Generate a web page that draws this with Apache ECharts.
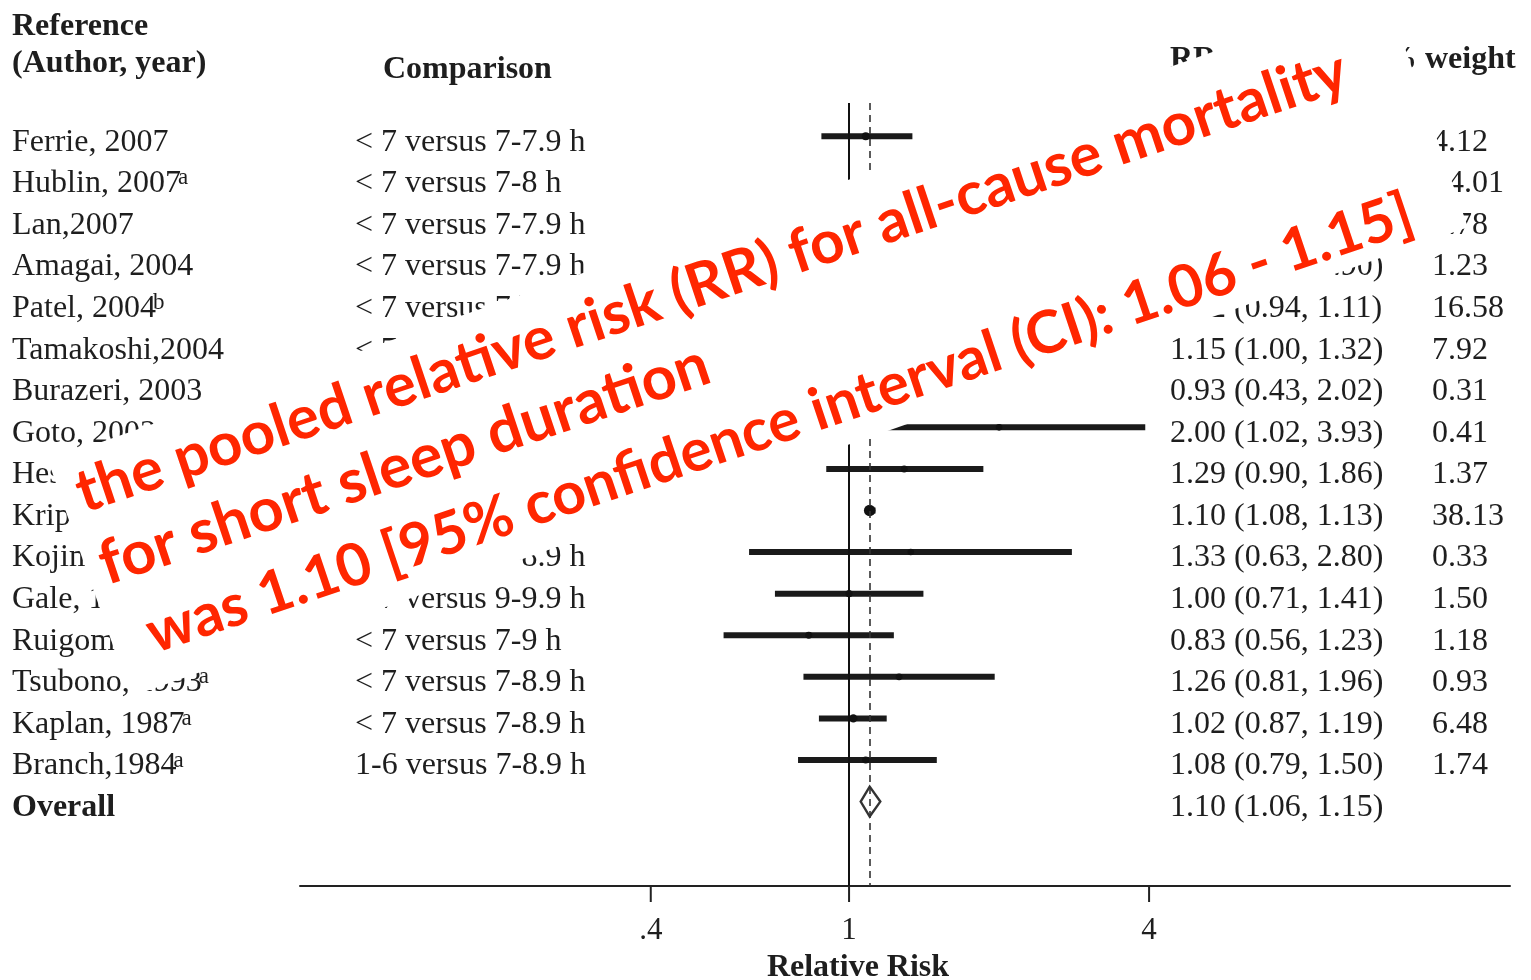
<!DOCTYPE html>
<html>
<head>
<meta charset="utf-8">
<script src="https://cdn.jsdelivr.net/npm/echarts@6/dist/echarts.min.js"></script>
<style>
html,body{margin:0;padding:0;background:#fff;}
#c{width:1531px;height:980px;}
</style>
</head>
<body>
<div id="c"></div>
<script>
// ---------------- data ----------------
const authors = ["Ferrie, 2007","Hublin, 2007","Lan,2007","Amagai, 2004","Patel, 2004","Tamakoshi,2004","Burazeri, 2003","Goto, 2003","Heslop, 2002","Kripke, 2002","Kojima, 2000","Gale, 1998","Ruigomez, 1995","Tsubono, 1993","Kaplan, 1987","Branch,1984","Overall"];
const authorSup = ["","a","","","b","","","","","","","","","a","a","a",""];
const comparisons = ["< 7 versus 7-7.9 h","< 7 versus 7-8 h","< 7 versus 7-7.9 h","< 7 versus 7-7.9 h","< 7 versus 7 h","< 7 versus 7-7.9 h","< 7 versus 7-8 h","< 7 versus 7-7.9 h","< 7 versus 7-8 h","< 7 versus 7 h","< 7 versus 7-8.9 h","< 7 versus 9-9.9 h","< 7 versus 7-9 h","< 7 versus 7-8.9 h","< 7 versus 7-8.9 h","1-6 versus 7-8.9 h",""];
const rrValues = [1.08,1.21,1.06,1.29,1.02,1.15,0.93,2.00,1.29,1.10,1.33,1.00,0.83,1.26,1.02,1.08,1.10];
const ciLow    = [0.88,1.10,0.86,0.88,0.94,1.00,0.43,1.02,0.90,1.08,0.63,0.71,0.56,0.81,0.87,0.79,1.06];
const ciHigh   = [1.34,1.33,1.31,1.90,1.11,1.32,2.02,3.93,1.86,1.13,2.80,1.41,1.23,1.96,1.19,1.50,1.15];
const weights  = ["4.12","14.01","3.78","1.23","16.58","7.92","0.31","0.41","1.37","38.13","0.33","1.50","1.18","0.93","6.48","1.74",""];
const tickValues = [0.4, 1, 4];
const tickLabels = [".4", "1", "4"];
const headerTexts = ["Reference", "(Author, year)", "Comparison", "RR (95% CI)", "% weight"];
const axisTitle = "Relative Risk";
const overlayLines = [
  "the pooled relative risk (RR) for all-cause mortality",
  "for short sleep duration",
  "was 1.10 [95% confidence interval (CI): 1.06 - 1.15]"
];

// ---------------- styles / layout ----------------
const SERIF = "'Liberation Serif','Times New Roman',serif";
const TXT = '#1e1e1e';
const overallIndex = authors.length - 1;
const colX = [12, 355, 1170, 1432];

const studyRows = [];
for (let i = 0; i < overallIndex; i++) {
  studyRows.push([i, rrValues[i], ciLow[i], ciHigh[i], parseFloat(weights[i])]);
}
const overallRow = [[overallIndex, rrValues[overallIndex], ciLow[overallIndex], ciHigh[overallIndex]]];
const tableRows = authors.map((_, i) => [i, 1]);

function rrText(i) {
  return rrValues[i].toFixed(2) + ' (' + ciLow[i].toFixed(2) + ', ' + ciHigh[i].toFixed(2) + ')';
}

// red overlay font sizes fitted to the original's line lengths
const targetWidths = [1337, 640, 1332];
let redSizes = [58, 58, 58];
try {
  const ctx = document.createElement('canvas').getContext('2d');
  ctx.font = "bold 100px Lato";
  redSizes = overlayLines.map((t, k) => targetWidths[k] / ctx.measureText(t).width * 100);
} catch (e) {}
const redBaselines = [-64, 12, 92];
const redStartX = [-692, -694, -672];

function renderBar(params, api) {
  const i = api.value(0), est = api.value(1), l = api.value(2), h = api.value(3), w = api.value(4);
  const a = api.coord([l, i]), b = api.coord([h, i]), c = api.coord([est, i]);
  return {
    type: 'group',
    children: [
      {type: 'line', shape: {x1: a[0], y1: a[1], x2: b[0], y2: b[1]}, style: {stroke: '#1a1a1a', lineWidth: 6}},
      {type: 'circle', shape: {cx: c[0], cy: c[1], r: 3 + Math.sqrt(w) * 0.45}, style: {fill: '#111'}}
    ]
  };
}

function renderDiamond(params, api) {
  const i = api.value(0), est = api.value(1), l = api.value(2), h = api.value(3);
  const L = api.coord([l, i]), R = api.coord([h, i]);
  const T = api.coord([est, i - 0.36]), B = api.coord([est, i + 0.36]);
  return {
    type: 'polygon',
    shape: {points: [[L[0] - 1, L[1]], T, [R[0] + 1, R[1]], B]},
    style: {fill: 'none', stroke: '#333', lineWidth: 2.4}
  };
}

function renderRow(params, api) {
  const i = api.value(0);
  const y = api.coord([1, i])[1] + 6;
  const bold = i === overallIndex;
  const base = {fontFamily: SERIF, fontSize: 32, fill: TXT, verticalAlign: 'middle', align: 'left'};
  const children = [];
  const sup = authorSup[i];
  children.push({
    type: 'text', x: colX[0], y: y,
    style: Object.assign({}, base, {
      text: '{n|' + authors[i] + '}' + (sup ? '{s|' + sup + '}' : ''),
      rich: {
        n: {fontFamily: SERIF, fontSize: 32, fontWeight: bold ? 'bold' : 'normal', fill: TXT, lineHeight: 34},
        s: {fontFamily: SERIF, fontSize: 23, fill: TXT, verticalAlign: 'top', lineHeight: 22, padding: [0, 0, 0, -3]}
      }
    })
  });
  if (comparisons[i]) children.push({type: 'text', x: colX[1], y: y, style: Object.assign({}, base, {text: comparisons[i]})});
  children.push({type: 'text', x: colX[2], y: y, style: Object.assign({}, base, {text: rrText(i)})});
  if (weights[i]) children.push({type: 'text', x: colX[3], y: y, style: Object.assign({}, base, {text: weights[i]})});
  return {type: 'group', children: children};
}

function renderTick(params, api) {
  const v = api.value(0);
  const x = api.coord([v, 0])[0];
  const yb = params.coordSys.y + params.coordSys.height;
  return {
    type: 'group',
    children: [
      {type: 'line', shape: {x1: x, y1: yb, x2: x, y2: yb + 16}, style: {stroke: '#222', lineWidth: 2}},
      {type: 'text', x: x, y: yb + 45, style: {text: tickLabels[params.dataIndex], fontFamily: SERIF, fontSize: 31, fill: TXT, align: 'center', verticalAlign: 'middle'}}
    ]
  };
}

const chart = echarts.init(document.getElementById('c'), null, {renderer: 'canvas'});
const hdr = {fontFamily: SERIF, fontSize: 32, fontWeight: 'bold', fill: TXT, verticalAlign: 'middle', align: 'left'};

const option = {
  backgroundColor: '#fff',
  animation: false,
  grid: {left: 300, right: 21, top: 103, bottom: 94, containLabel: false},
  xAxis: {
    type: 'log', logBase: 10, min: 0.0791, max: 21.2,
    axisLine: {show: true, onZero: false, lineStyle: {color: '#222', width: 2}},
    axisTick: {show: false}, axisLabel: {show: false}, splitLine: {show: false}
  },
  yAxis: {
    type: 'value', inverse: true, min: -0.8, max: 18.03,
    axisLine: {show: false}, axisTick: {show: false}, axisLabel: {show: false}, splitLine: {show: false}
  },
  series: [
    {
      type: 'custom', name: 'studies', data: studyRows, renderItem: renderBar,
      encode: {x: [1, 2, 3], y: 0}, clip: false, z: 3,
      markLine: {
        silent: true, symbol: 'none', label: {show: false}, animation: false,
        data: [
          {xAxis: 1, lineStyle: {type: 'solid', width: 2, color: '#111'}},
          {xAxis: rrValues[overallIndex], lineStyle: {type: [7, 5], width: 1.6, color: '#333'}}
        ]
      }
    },
    {type: 'custom', name: 'overall', data: overallRow, renderItem: renderDiamond, encode: {x: [1, 2, 3], y: 0}, clip: false, z: 4},
    {type: 'custom', name: 'table', data: tableRows, renderItem: renderRow, encode: {x: 1, y: 0}, clip: false, z: 5},
    {type: 'custom', name: 'ticks', data: tickValues.map(v => [v]), renderItem: renderTick, encode: {x: 0}, clip: false, z: 5}
  ],
  graphic: [
    {type: 'text', x: 12, y: 27, z: 10, style: Object.assign({}, hdr, {text: headerTexts[0]})},
    {type: 'text', x: 12, y: 64, z: 10, style: Object.assign({}, hdr, {text: headerTexts[1]})},
    {type: 'text', x: 383, y: 70, z: 10, style: Object.assign({}, hdr, {text: headerTexts[2]})},
    {type: 'text', x: 1170, y: 60, z: 10, style: Object.assign({}, hdr, {text: headerTexts[3]})},
    {type: 'text', x: 1385, y: 60, z: 10, style: Object.assign({}, hdr, {text: headerTexts[4]})},
    {type: 'text', x: 858, y: 968, z: 10, style: Object.assign({}, hdr, {text: axisTitle, align: 'center'})},
    {
      type: 'group', x: 758, y: 344, rotation: 19.34 * Math.PI / 180, z: 100,
      children: [
        {type: 'rect', shape: {x: -708.5, y: -125, width: 1417, height: 250}, style: {fill: '#fff'}, z: 100}
      ].concat(overlayLines.map((t, k) => ({
        type: 'text', x: redStartX[k], y: redBaselines[k], rotation: -0.8 * Math.PI / 180, z: 101,
        style: {text: t, x: 0, y: -redSizes[k] * 0.32, fontFamily: 'Lato', fontWeight: 'bold', fontSize: redSizes[k], fill: '#ff2600', align: 'left', verticalAlign: 'middle'}
      })))
    }
  ]
};
chart.setOption(option);
</script>
</body>
</html>
